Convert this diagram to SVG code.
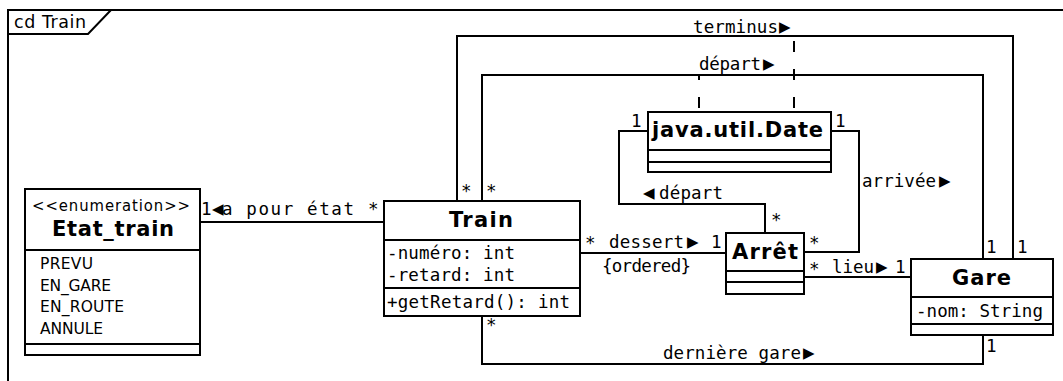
<svg xmlns="http://www.w3.org/2000/svg" width="1063" height="381" viewBox="0 0 1063 381">
  <style>
    .box { fill: #fff; stroke: #000; stroke-width: 2; }
    .div { stroke: #000; stroke-width: 2; fill: none; }
    .edge { stroke: #000; stroke-width: 2; fill: none; }
    .dash { stroke: #000; stroke-width: 2; fill: none; stroke-dasharray: 11 17; }
    .title { font-family: "DejaVu Sans", "Liberation Sans", sans-serif; font-weight: bold; font-size: 21px; fill: #000; }
    .mono { font-family: "DejaVu Sans Mono", "Liberation Mono", monospace; font-size: 17.5px; fill: #000; }
    .tri { font-family: "DejaVu Sans", "Liberation Sans", sans-serif; font-size: 15px; fill: #000; }
    .lit { font-family: "DejaVu Sans", sans-serif; font-size: 15.5px; fill: #000; }
    .stereo { font-family: "DejaVu Sans Condensed", "DejaVu Sans", sans-serif; font-size: 16.5px; fill: #000; }
    .frame { font-family: "DejaVu Sans", "Liberation Sans", sans-serif; font-size: 17.5px; fill: #000; }
  </style>

  <rect width="1063" height="381" fill="#fff"/>

  <!-- frame -->
  <g id="frame">
    <path class="div" d="M8,390 V10 H1070"/>
    <path class="div" d="M8,34 H88 L111,10"/>
    <text class="frame" x="14" y="28" textLength="72">cd Train</text>
  </g>

  <!-- connectors -->
  <g id="connectors">
    <!-- a pour état -->
    <path class="edge" d="M200,222 H384"/>
    <text class="mono" x="201" y="215">1</text>
    <text class="tri" x="212" y="214">◀</text>
    <text class="mono" x="222" y="215" textLength="132">a pour état</text>
    <text class="mono" x="368" y="215">*</text>

    <!-- dessert -->
    <path class="edge" d="M580,253 H726"/>
    <text class="mono" x="585" y="249">*</text>
    <text class="mono" x="609" y="248" textLength="75">dessert</text>
    <text class="tri" x="687" y="247">▶</text>
    <text class="mono" x="711" y="248">1</text>
    <text class="mono" x="602" y="272" textLength="89">{ordered}</text>

    <!-- lieu -->
    <path class="edge" d="M804,277 H911"/>
    <text class="mono" x="809" y="275">*</text>
    <text class="mono" x="832" y="273" textLength="42">lieu</text>
    <text class="tri" x="876" y="272">▶</text>
    <text class="mono" x="895" y="273">1</text>

    <!-- terminus -->
    <path class="edge" d="M457,201 V36 H1013 V259"/>
    <text class="mono" x="693" y="33" textLength="85">terminus</text>
    <text class="tri" x="779" y="32">▶</text>
    <text class="mono" x="461" y="197">*</text>
    <text class="mono" x="1017" y="253">1</text>
    <path class="dash" d="M794,108 V36"/>

    <!-- départ (Train - Gare) -->
    <path class="edge" d="M482,201 V75 H983 V259"/>
    <text class="mono" x="699" y="70" textLength="62">départ</text>
    <text class="tri" x="763" y="69">▶</text>
    <text class="mono" x="486" y="197">*</text>
    <text class="mono" x="986" y="253">1</text>
    <path class="dash" d="M699,108 V75"/>

    <!-- dernière gare -->
    <path class="edge" d="M482,316 V364 H983 V335"/>
    <text class="mono" x="663" y="359" textLength="138">dernière gare</text>
    <text class="tri" x="803" y="358">▶</text>
    <text class="mono" x="486" y="331">*</text>
    <text class="mono" x="986" y="352">1</text>

    <!-- départ (Arrêt - Date) -->
    <path class="edge" d="M648,131 H619 V204 H765 V233"/>
    <text class="tri" x="643" y="198">◀</text>
    <text class="mono" x="659" y="199" textLength="64">départ</text>
    <text class="mono" x="631" y="127">1</text>
    <text class="mono" x="771" y="226">*</text>

    <!-- arrivée -->
    <path class="edge" d="M831,131 H859 V252 H804"/>
    <text class="mono" x="862" y="187" textLength="74">arrivée</text>
    <text class="tri" x="939" y="186">▶</text>
    <text class="mono" x="835" y="127">1</text>
    <text class="mono" x="809" y="249">*</text>
  </g>

  <!-- Etat_train enumeration -->
  <g id="etat_train">
    <rect class="box" x="25" y="189" width="175" height="166"/>
    <path class="div" d="M25,250 H200 M25,344 H200"/>
    <text class="stereo" x="32" y="211" textLength="158">&lt;&lt;enumeration&gt;&gt;</text>
    <text class="title" x="52" y="236" textLength="122">Etat_train</text>
    <text class="lit" x="40" y="269" textLength="53">PREVU</text>
    <text class="lit" x="40" y="290.5" textLength="71">EN_GARE</text>
    <text class="lit" x="40" y="312" textLength="84">EN_ROUTE</text>
    <text class="lit" x="40" y="333.5" textLength="63">ANNULE</text>
  </g>

  <!-- Train -->
  <g id="train">
    <rect class="box" x="384" y="201" width="196" height="115"/>
    <path class="div" d="M384,240 H580 M384,288 H580"/>
    <text class="title" x="449" y="227" textLength="64">Train</text>
    <text class="mono" x="387" y="259" textLength="128">-numéro: int</text>
    <text class="mono" x="387" y="281" textLength="128">-retard: int</text>
    <text class="mono" x="387" y="308" textLength="183">+getRetard(): int</text>
  </g>

  <!-- java.util.Date -->
  <g id="java_util_date">
    <rect class="box" x="648" y="112" width="183" height="60"/>
    <path class="div" d="M648,150 H831 M648,162 H831"/>
    <text class="title" x="652" y="137" textLength="171">java.util.Date</text>
  </g>

  <!-- Arrêt -->
  <g id="arret">
    <rect class="box" x="726" y="233" width="78" height="61"/>
    <path class="div" d="M726,271 H804 M726,282 H804"/>
    <text class="title" x="732" y="259" textLength="66">Arrêt</text>
  </g>

  <!-- Gare -->
  <g id="gare">
    <rect class="box" x="911" y="259" width="142" height="76"/>
    <path class="div" d="M911,297 H1053 M911,324 H1053"/>
    <text class="title" x="952" y="285" textLength="59">Gare</text>
    <text class="mono" x="916" y="317" textLength="127">-nom: String</text>
  </g>
</svg>
